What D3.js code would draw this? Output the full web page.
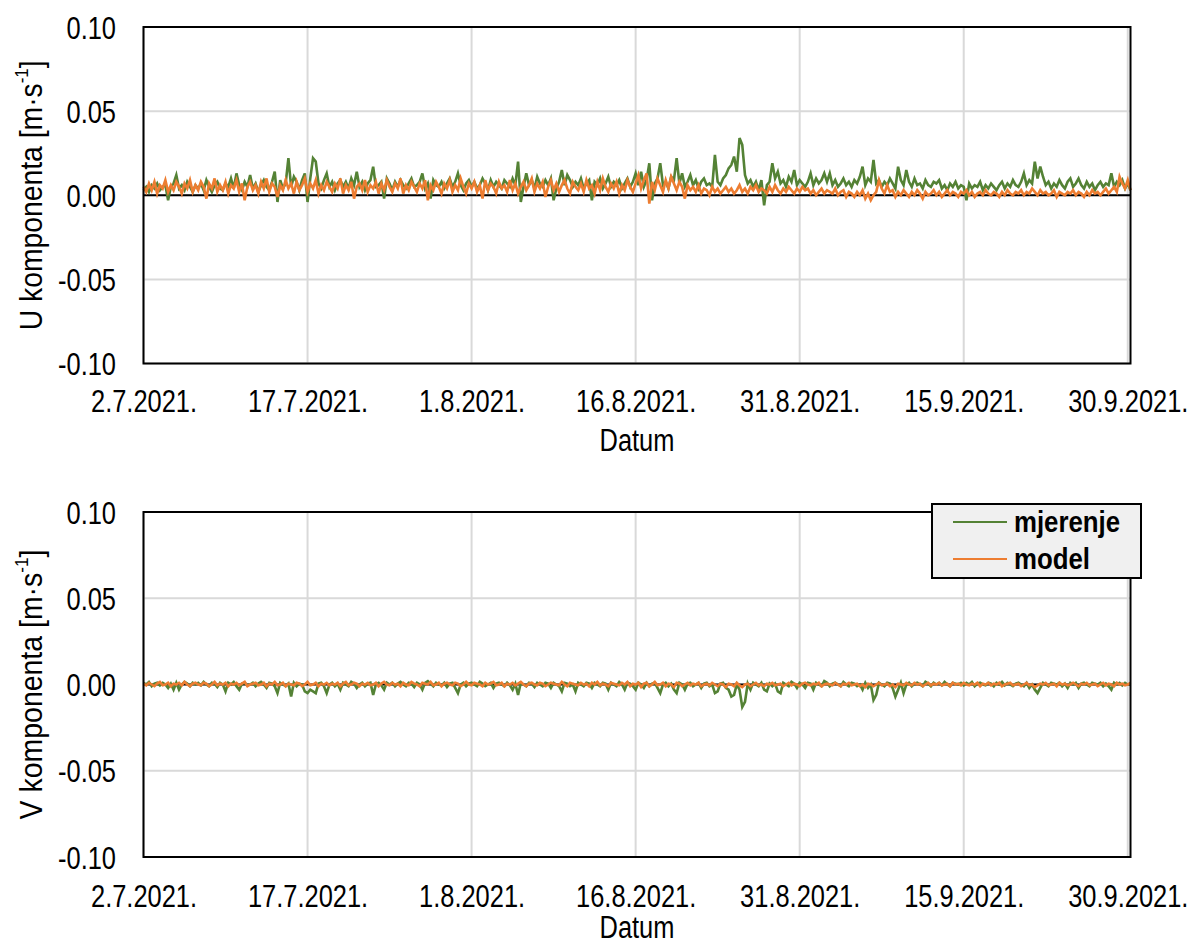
<!DOCTYPE html>
<html>
<head>
<meta charset="utf-8">
<script src="https://cdn.jsdelivr.net/npm/d3@7/dist/d3.min.js"></script>
<style>
  html, body { margin: 0; padding: 0; background: #ffffff; }
  svg { display: block; }
  text { font-family: "Liberation Sans", Arial, sans-serif; fill: #000; }
</style>
</head>
<body>
<svg id="chart" width="1194" height="942"></svg>
<script>
// ---------------- DATA ----------------
// Time series start and sampling step (values every 6 h)
const seriesStart = "2021-07-02T00:00:00";
const stepHours = 6;
const domainEnd = "2021-09-30T06:00:00";

// Tick values / labels
const xTickDates = ["2021-07-02", "2021-07-17", "2021-08-01", "2021-08-16", "2021-08-31", "2021-09-15", "2021-09-30"];
const xTickLabels = ["2.7.2021.", "17.7.2021.", "1.8.2021.", "16.8.2021.", "31.8.2021.", "15.9.2021.", "30.9.2021."];
const yTickValues = [-0.10, -0.05, 0.00, 0.05, 0.10];
const yTickLabels = ["-0.10", "-0.05", "0.00", "0.05", "0.10"];

const seriesNames = ["mjerenje", "model"];

// U component, values in mm/s (= 0.001 m/s)
const uMjerenje = [
  3, 5, 2, 6, 4, 7, 3, 5, 6, -3,
  5, 7, 12, 4, 6, 3, 8, 5, 2, 6,
  4, 7, 3, 9, 5, 2, 6, 8, 4, 3,
  7, 5, 10, 4, 13, 6, 3, 8, 5, 12,
  4, 7, 2, 6, 9, 5, 3, 8, 14, -4,
  9, 4, 7, 22, 5, 11, 8, 3, 9, 13,
  -4, 10, 22, 20, 7, 4, 9, 13, 5, 8,
  3, 7, 9, 5, 8, 4, 10, 6, 14, 5,
  8, 3, 7, 9, 17, 5, 6, 8, -2, 10,
  7, 3, 8, 5, 9, 6, 4, 7, 10, 5,
  6, 8, 13, 4, 7, -2, 9, 6, 5, 8,
  4, 7, 10, 5, 8, 13, 6, 3, 7, 9,
  5, 8, 4, 6, 10, 7, 3, 9, 5, 8,
  6, 4, 9, 7, 5, 10, 6, 20, -4, 5,
  13, 6, 9, 4, 11, 7, 5, 9, 6, 10,
  -3, 4, 8, 15, 6, 12, 9, 5, 8, 6,
  10, 4, 7, 9, -3, 8, 6, 10, 4, 7,
  11, 5, 8, 6, 9, 4, 7, 10, 5, 8,
  13, 6, 14, 5, 9, 19, -3, 7, 10, 19,
  6, 8, 4, 11, 9, 22, 7, 13, 5, 8,
  12, 6, 9, 4, 8, 10, 6, 7, 5, 24,
  8, 6, 10, 12, 16, 18, 23, 14, 34, 30,
  12, 7, 9, 5, 8, 3, 9, -6, 6, 8,
  19, 10, 14, 7, 9, 5, 11, 8, 15, 6,
  9, 7, 5, 8, 13, 6, 10, 7, 9, 13,
  8, 13, 6, 9, 5, 7, 10, 6, 8, 5,
  9, 7, 11, 17, 6, 10, 8, 21, 7, 9,
  5, 8, 6, 10, 7, 4, 17, 9, 6, 15,
  8, 5, 10, 6, 7, 4, 9, 6, 5, 8,
  7, 9, 4, 6, 3, 7, 5, 8, 4, 6,
  5, -3, 7, 4, 6, 5, 8, 3, 6, 4,
  7, 5, 3, 6, 8, 4, 7, 5, 9, 6,
  5, 8, 13, 6, 9, 7, 20, 10, 17, 11,
  6, 8, 4, 7, 5, 9, 6, 4, 8, 10,
  5, 7, 10, 6, 4, 8, 5, 7, 3, 6,
  8, 5, 7, 6, 13, 5, 8, 6, 9, 4,
  7, 3
];
const uModel = [
  5, 2, 7, 3, 8, 1, 6, 4, 9, 2,
  6, 3, 8, 5, 1, 7, 4, 9, 2, 6,
  3, 8, 5, -2, 7, 4, 10, 2, 6, 3,
  8, 1, 6, 4, 9, 2, 7, -3, 5, 8,
  3, 6, 1, 8, 4, 10, 2, 7, 5, -1,
  6, 3, 9, 4, 7, 1, 8, 3, 6, 10,
  2, 7, 4, 9, 1, 6, 3, 8, 5, 2,
  7, 4, 10, 1, 6, 3, 8, -2, 5, 7,
  3, 9, 2, 6, 4, 8, 1, 7, 3, 9,
  5, 2, 7, 4, 10, 1, 6, 3, 8, 5,
  2, 7, 4, 9, -3, 6, 3, 8, 5, 1,
  7, 4, 9, 2, 6, 3, 10, 5, 1, 7,
  4, 8, 2, 6, -2, 9, 3, 7, 5, 1,
  8, 4, 6, 2, 9, 3, 7, 1, 5, 8,
  3, 6, 10, 2, 7, 4, 8, -1, 5, 9,
  3, 7, 2, 6, 9, 4, 1, 8, 5, 3,
  7, 2, 9, 4, 6, 1, 8, 3, 10, 5,
  2, 7, 4, 8, 1, 6, 3, 9, 5, 2,
  7, 12, 4, 9, 13, -5, 8, 3, 10, 6,
  2, 9, 4, 11, 7, 3, 8, 5, -2, 6,
  3, 5, 2, 6, 1, 4, 3, 0, 5, 2,
  4, 1, 3, 5, 2, 4, 1, 3, 6, 2,
  4, 1, 5, 3, 6, 2, 4, 3, 1, 5,
  2, 6, 3, 1, 4, 2, 5, 3, 1, 4,
  2, 5, 3, 4, 1, 3, 0, 2, 4, 1,
  3, 2, 1, 4, 0, 2, 3, -1, 2, 1,
  -1, 2, 0, 3, -2, 1, -3, 0, 2, 9,
  4, 1, 6, 2, 3, -1, 2, 0, 3, 1,
  -1, 2, 0, 3, 1, -2, 2, 0, 1, 3,
  0, 2, -1, 1, 3, 0, 2, 1, -1, 2,
  1, 3, 0, 2, -1, 1, 2, 0, 3, 1,
  0, 2, 1, -1, 2, 0, 3, 1, 0, 2,
  1, 3, 0, 2, 1, 4, 2, 0, 3, 1,
  2, 0, 1, 3, -1, 2, 1, 0, 2, 1,
  3, 0, 2, 1, -1, 2, 0, 3, 1, 2,
  0, 2, 4, 1, 3, 5, 2, 11, 7, 4,
  9, 3
];

// V component, values in mm/s (= 0.001 m/s)
const vMjerenje = [
  1, 0, 1.5, -1, 0.5, 1, -0.5, 1, 0, -2,
  0.5, -3, 1, -3, 0, 1.5, 0.5, -1, 1, 0,
  1, -0.5, 1.5, 0, -1, 1, 0.5, -1.5, 1, 0,
  -4, 1, 0, 1.5, -1, -3, 0.5, 1, -0.5, 0,
  1, -1, 0.5, 1.5, 0, -2, 1, 0.5, -1, -5,
  1, 0, -1, 0.5, -7, 1, -1, 0.5, 0, -4,
  -5, -3, -4, -5, 0.5, 1, -1, -5, 0, 1,
  -1, 0.5, -3, 1, 0, -1, 1.5, 0.5, -2, 0,
  1, -1, 0.5, 1, -6, 0, 1, -0.5, -3, 1,
  0, 1, -1, 0.5, 1.5, 0, -1, 1, 0.5, -1.5,
  1, 0, -3, 1, 2, 0.5, -1, 1, 0, -0.5,
  1, -1.5, 0.5, 1, -2, -5, 0, 1, -1, 0.5,
  1, 0, -1, 1.5, 0.5, -1, 0, 1, -2, 0.5,
  1, 0, -1, 1, -0.5, -3, 0.5, -6, 1, 0,
  -1, 1, 0.5, -1.5, 1, 0, -1, 1, 0.5, -2,
  1, 0, -1, -4, 1, 0.5, -1, 0, -4, 1,
  0, -1, 1, 0.5, -2, 1, 0, -1, 1, 0.5,
  -3, 1, 0, -1, 1.5, 0, -3, 1, 0.5, -1,
  -3, 1, 0, -2, 1, -1, 0.5, 1, -2, -5,
  0, 1, -1, 0.5, -3, -5, 1, 0, -3, 0.5,
  1, -1, 0, 1, -2, 0.5, 1, -1, 0, -5,
  -4, 0.5, 1, -2, -3, -7, -6, 0, -3, -13,
  -10, 0.5, -3, 1, 0, -1, 1, -3, -4, 0.5,
  -1, 0.5, -4, -5, 1, 0, -1, 1.5, 0.5, -2,
  1, 0, -2, 1, 0.5, -3, 1, 0, -1, 2,
  1, -1, 0.5, 1, 0, -1, 1.5, 0, -1, 1,
  0.5, -1, 0, -3, 1, -2, 0, -9, -6, 1,
  0, -1, 1, 0.5, -2, -7, -3, 1, -5, 0,
  1, -1, 0.5, 1, 0, -1, 1.5, 0.5, -1, 1,
  0, 1, -0.5, 1.5, 0, -1, 1, 0.5, 0, 1,
  -0.5, 1, 0, 1.5, -1, 0.5, 1, 0, -0.5, 1,
  0.5, -1, 1, 0, 1.5, -0.5, 1, 0, -1, 0.5,
  1, 0, -1, 1, -2, 0, -3, -5, -2, 1,
  0, -1, 1, 0.5, 0, 1, -1, 0.5, -2, 1,
  0, 1, -2, 0.5, 1, 0, -1, 1, 0.5, 0,
  1, -1, 0.5, -1, -3, 1, 0, 1, -0.5, 1,
  0, 0.5
];
const vModel = [
  0.5, -0.5, 1, 0, -1, 0.5, 1.5, -0.5, 0, 1,
  -1, 0.5, 0, 1, -0.5, 1.5, 0, -1, 0.5, 1,
  0, -0.5, 1, 0.5, -1, 0, 1.5, -0.5, 0.5, 0,
  1, -1, 0.5, 0, 1, -0.5, 0.5, 1.5, -1, 0,
  0.5, 1, -0.5, 0, 1, -1, 0.5, 0, 1.5, -0.5,
  0, 1, -1, 0.5, 0, -0.5, 1, 0.5, -1, 0,
  1.5, -0.5, 0, 1, -1, 0.5, 0, 1, -0.5, 0.5,
  0, 1, -1, 0.5, 1.5, -0.5, 0, 1, 0.5, -1,
  0.5, 0, 1, -0.5, 0, 1, -1, 0.5, 1.5, 0,
  -0.5, 1, 0, 0.5, -1, 1, 0, -0.5, 1.5, 0.5,
  0, -1, 1, 0.5, 0, 1.5, -0.5, 0, 1, -1,
  0.5, 1, 0, -0.5, 1, 0.5, -1, 0, 1.5, 0,
  -0.5, 1, 0.5, 0, -1, 1, 0, 0.5, 1.5, -0.5,
  0, 1, -1, 0.5, 0, 1, -0.5, 0.5, 1.5, 0,
  -1, 0.5, 1, 0, -0.5, 1, 0.5, -1, 0, 1,
  0.5, 0, -0.5, 1.5, 0, -1, 1, 0.5, 0, -0.5,
  1, 0, 0.5, -1, 1, 0, 1.5, -0.5, 0.5, 0,
  -1, 1, 0.5, 0, -0.5, 1, 0, 1.5, -1, 0.5,
  0, 1, -1.5, 0.5, 1, -1, 0, 1.5, -0.5, 0,
  1, -1, 0.5, 0, -1.5, 1, 0.5, -1, 0, 1,
  -0.5, 0.5, 0, 1, -1, 0, 0.5, -0.5, 1, 0,
  -1, 0.5, 0, -1.5, 0.5, 0, -1, 1, -0.5, -1.5,
  0, 0.5, -1, 0, 1, -0.5, 0, -1, 0.5, 0,
  1, -0.5, 0, 0.5, -1, 0, 1, -0.5, 0.5, 0,
  -1, 0.5, 1, 0, -0.5, 0.5, 0, 1, -1, 0,
  0.5, 0, -0.5, 1, 0, -1, 0.5, 0, 1, -0.5,
  0, 0.5, -1, 0, -1.5, 0.5, 0, -1, 0, 1,
  -0.5, 0, 0.5, -1, 0, -1.5, 0.5, 0, -0.5, 1,
  0, -0.5, 1, 0, 0.5, -1, 0, 1, -0.5, 0.5,
  0, 1, -0.5, 0, 0.5, -1, 1, 0, 0.5, -0.5,
  1, 0, -0.5, 0.5, 0, 1, -1, 0.5, 0, 1,
  -0.5, 0.5, 0, 1, -1, 0, 0.5, 1, -0.5, 0,
  0.5, -1, 0, 1, -0.5, 0, -1.5, -0.5, 0.5, 0,
  1, -0.5, 0, 0.5, -1, 1, 0, 0.5, -0.5, 0,
  1, 0, -1, 0.5, 0, 1, -0.5, 0, 0.5, -1,
  0, 1, -0.5, 0.5, 0, -1, 1, 0, 0.5, -0.5,
  0, 1
];

// ---------------- DRAWING ----------------
const svg = d3.select("#chart");
const colors = { mjerenje: "#548235", model: "#ed7d31" };
const FONT = 31;
const NARROW = 0.82;

// emulate a narrow (condensed) sans-serif face
function condense(sel, k) {
  sel.each(function () {
    const w = this.getComputedTextLength();
    d3.select(this).attr("textLength", w * k).attr("lengthAdjust", "spacingAndGlyphs");
  });
}

const parse = d3.isoParse;
const t0 = parse(seriesStart);
const toDate = i => new Date(t0.getTime() + i * stepHours * 3600 * 1000);

const plotLeft = 143.5, plotRight = 1130.5;
const x = d3.scaleTime()
  .domain([t0, parse(domainEnd)])
  .range([plotLeft, plotRight]);

const panels = [
  { top: 27, bottom: 363.5, title: "U", meas: uMjerenje, model: uModel, tickY: 401, datumY: 440, legend: false },
  { top: 512, bottom: 857, title: "V", meas: vMjerenje, model: vModel, tickY: 896, datumY: 927, legend: true }
];

panels.forEach(p => {
  const y = d3.scaleLinear().domain([-0.10, 0.10]).range([p.bottom, p.top]);
  const g = svg.append("g");

  // gridlines
  g.append("g").selectAll("line").data(yTickValues).join("line")
    .attr("x1", plotLeft).attr("x2", plotRight)
    .attr("y1", d => y(d)).attr("y2", d => y(d))
    .attr("stroke", "#d9d9d9").attr("stroke-width", 2);
  g.append("g").selectAll("line").data(xTickDates.map(parse)).join("line")
    .attr("x1", d => x(d)).attr("x2", d => x(d))
    .attr("y1", p.top).attr("y2", p.bottom)
    .attr("stroke", "#d9d9d9").attr("stroke-width", 2);

  // zero line
  g.append("line")
    .attr("x1", plotLeft).attr("x2", plotRight)
    .attr("y1", y(0)).attr("y2", y(0))
    .attr("stroke", "#000").attr("stroke-width", 2);

  // series
  const line = d3.line()
    .x((d, i) => x(toDate(i)))
    .y(d => y(d / 1000));
  g.append("path").datum(p.meas)
    .attr("d", line).attr("fill", "none")
    .attr("stroke", colors.mjerenje).attr("stroke-width", 2.6).attr("stroke-linejoin", "miter");
  g.append("path").datum(p.model)
    .attr("d", line).attr("fill", "none")
    .attr("stroke", colors.model).attr("stroke-width", 2.6).attr("stroke-linejoin", "miter");

  // plot border
  g.append("rect")
    .attr("x", plotLeft).attr("y", p.top)
    .attr("width", plotRight - plotLeft).attr("height", p.bottom - p.top)
    .attr("fill", "none").attr("stroke", "#000").attr("stroke-width", 2);

  // y axis labels
  const yAxis = d3.axisLeft(y).tickValues(yTickValues)
    .tickFormat((d, i) => yTickLabels[i]).tickSize(0).tickPadding(0);
  const ya = g.append("g").attr("transform", `translate(116,0)`).call(yAxis);
  ya.select(".domain").remove();
  ya.selectAll("text").attr("font-size", FONT).attr("font-family", null).attr("dy", "0.36em").call(condense, NARROW);

  // x axis labels
  const xAxis = d3.axisBottom(x).tickValues(xTickDates.map(parse))
    .tickFormat((d, i) => xTickLabels[i]).tickSize(0).tickPadding(0);
  const xa = g.append("g").attr("transform", `translate(0,${p.tickY})`).call(xAxis);
  xa.select(".domain").remove();
  xa.selectAll("text").attr("font-size", FONT).attr("font-family", null).attr("dy", "0.36em").call(condense, NARROW);

  // axis titles
  g.append("text")
    .attr("x", 637).attr("y", p.datumY)
    .attr("text-anchor", "middle").attr("dy", "0.36em")
    .attr("font-size", FONT).text("Datum").call(condense, NARROW);

  const ytg = g.append("g");
  const yt = ytg.append("text")
    .attr("text-anchor", "middle").attr("dy", "0.36em")
    .attr("font-size", FONT);
  yt.append("tspan").text(p.title + " komponenta [m·s");
  yt.append("tspan").attr("font-size", FONT * 0.6).attr("dy", "-0.75em").text("-1");
  yt.append("tspan").attr("dy", "0.45em").text("]");
  const bw = yt.node().getBBox().width;
  const k = 270 / bw;
  ytg.attr("transform", `translate(31,${(p.top + p.bottom) / 2}) rotate(-90) scale(${k},1)`);

  // legend
  if (p.legend) {
    const lg = svg.append("g");
    lg.append("rect").attr("x", 932).attr("y", 504).attr("width", 209).attr("height", 74)
      .attr("fill", "#f0f0f0").attr("stroke", "#000").attr("stroke-width", 2);
    seriesNames.forEach((name, i) => {
      const ly = 522 + i * 37;
      lg.append("line").attr("x1", 953).attr("x2", 1007).attr("y1", ly).attr("y2", ly)
        .attr("stroke", colors[name]).attr("stroke-width", 2);
      lg.append("text").attr("x", 1014).attr("y", ly).attr("dy", "0.34em")
        .attr("font-size", 30).attr("font-weight", "bold").text(name).call(condense, 0.86);
    });
  }
});
</script>
</body>
</html>
